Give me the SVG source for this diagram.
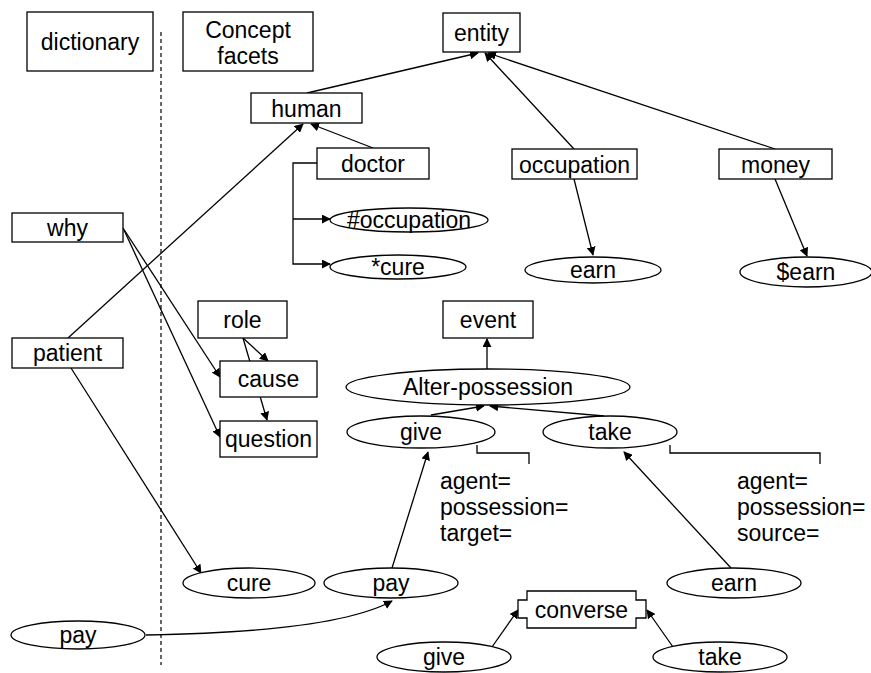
<svg xmlns="http://www.w3.org/2000/svg" width="871" height="673" viewBox="0 0 871 673">
<defs>
<style>
.b{fill:#fff;stroke:#000;stroke-width:1.3}
.t{font-family:"Liberation Sans",Arial,sans-serif;font-size:23px;fill:#000;text-anchor:middle}
.l{font-family:"Liberation Sans",Arial,sans-serif;font-size:23px;fill:#000;text-anchor:start}
.c{fill:none;stroke:#000;stroke-width:1.3}
.a{marker-end:url(#ah)}
</style>
<marker id="ah" viewBox="0 0 10 10" refX="9" refY="5" markerWidth="9" markerHeight="9" markerUnits="userSpaceOnUse" orient="auto">
<path d="M0,0 L10,5 L0,10 z" fill="#000"/>
</marker>
</defs>
<rect width="871" height="673" fill="#fff"/>
<line x1="161" y1="32" x2="161" y2="665" stroke="#000" stroke-width="1.2" stroke-dasharray="4,3"/>
<g id="connectors">
<path class="c a" d="M307,93 L478,53"/>
<path class="c a" d="M574,149 L485,53"/>
<path class="c a" d="M775,149 L488,53"/>
<path class="c a" d="M373,148 L311,124"/>
<path class="c a" d="M68,338 L303,124"/>
<path class="c a" d="M317,163 H293 V264 H330"/>
<path class="c a" d="M293,219 H330"/>
<path class="c a" d="M574,179 L593,255"/>
<path class="c a" d="M775,179 L807,256"/>
<path class="c a" d="M123,228 L220,377"/>
<path class="c a" d="M124,230 L220,437"/>
<path class="c a" d="M243,338 L268,361"/>
<path class="c a" d="M243,338 L267,420"/>
<path class="c a" d="M71,368 L201,573"/>
<path class="c a" d="M146,635 Q335,632 392,601"/>
<path class="c a" d="M392,568 L428,452"/>
<path class="c a" d="M487,369 L487,339"/>
<path class="c a" d="M431,415 L484,406"/>
<path class="c a" d="M604,416 L490,406"/>
<path class="c a" d="M731,568 L624,452"/>
<path class="c a" d="M492,647 L518,610"/>
<path class="c a" d="M673,647 L647,610"/>
<path class="c" d="M477,445 V453 H529 V464"/>
<path class="c" d="M670,445 V453 H820 V464"/>
</g>
<g id="dictionary"><rect class="b" x="27" y="12" width="126" height="59"/><text class="t" x="90" y="50">dictionary</text></g>
<g id="concept-facets"><rect class="b" x="183" y="12" width="130" height="59"/><text class="t" x="248" y="38">Concept</text><text class="t" x="248" y="64">facets</text></g>
<g id="entity"><rect class="b" x="443" y="13" width="77" height="39"/><text class="t" x="481.5" y="41">entity</text></g>
<g id="human"><rect class="b" x="251" y="93" width="111" height="30"/><text class="t" x="306.5" y="116.5">human</text></g>
<g id="doctor"><rect class="b" x="317" y="148" width="112" height="31"/><text class="t" x="373" y="172">doctor</text></g>
<g id="occupation"><rect class="b" x="512" y="149" width="125" height="30"/><text class="t" x="574.5" y="172.5">occupation</text></g>
<g id="money"><rect class="b" x="719" y="149" width="113" height="30"/><text class="t" x="775.5" y="172.5">money</text></g>
<g id="hash-occupation"><ellipse class="b" cx="409" cy="220" rx="79" ry="12"/><text class="t" x="409" y="228">#occupation</text></g>
<g id="star-cure"><ellipse class="b" cx="398" cy="267" rx="68" ry="12"/><text class="t" x="398" y="275">*cure</text></g>
<g id="earn-top"><ellipse class="b" cx="593" cy="270" rx="68" ry="13"/><text class="t" x="593" y="278">earn</text></g>
<g id="dollar-earn"><ellipse class="b" cx="806" cy="272" rx="66" ry="15"/><text class="t" x="806" y="280">$earn</text></g>
<g id="why"><rect class="b" x="12" y="213" width="111" height="29"/><text class="t" x="67.5" y="236">why</text></g>
<g id="patient"><rect class="b" x="12" y="338" width="111" height="30"/><text class="t" x="67.5" y="361">patient</text></g>
<g id="role"><rect class="b" x="198" y="301" width="89" height="37"/><text class="t" x="242.5" y="328">role</text></g>
<g id="cause"><rect class="b" x="220" y="361" width="97" height="36"/><text class="t" x="268.5" y="387">cause</text></g>
<g id="question"><rect class="b" x="220" y="421" width="97" height="36"/><text class="t" x="268.5" y="447">question</text></g>
<g id="event"><rect class="b" x="443" y="301" width="90" height="37"/><text class="t" x="488" y="328">event</text></g>
<g id="alter-possession"><ellipse class="b" cx="488" cy="387" rx="142" ry="18"/><text class="t" x="488" y="395">Alter-possession</text></g>
<g id="give-top"><ellipse class="b" cx="421" cy="432" rx="74" ry="16"/><text class="t" x="421" y="440">give</text></g>
<g id="take-top"><ellipse class="b" cx="610" cy="432" rx="67" ry="16"/><text class="t" x="610" y="440">take</text></g>
<g id="give-roles"><text class="l" x="440" y="489">agent=</text><text class="l" x="440" y="515">possession=</text><text class="l" x="440" y="541">target=</text></g>
<g id="take-roles"><text class="l" x="737" y="489">agent=</text><text class="l" x="737" y="515">possession=</text><text class="l" x="737" y="541">source=</text></g>
<g id="cure"><ellipse class="b" cx="249" cy="583" rx="66" ry="15"/><text class="t" x="249" y="591">cure</text></g>
<g id="pay-mid"><ellipse class="b" cx="391" cy="583" rx="67" ry="15"/><text class="t" x="391" y="591">pay</text></g>
<g id="earn-bottom"><ellipse class="b" cx="734" cy="583" rx="67" ry="15"/><text class="t" x="734" y="591">earn</text></g>
<g id="pay-left"><ellipse class="b" cx="78" cy="635" rx="67" ry="14"/><text class="t" x="78" y="643">pay</text></g>
<g id="converse"><path class="b" d="M527,591 H636 V600 H646 V618 H636 V628 H527 V618 H518 V600 H527 Z"/><text class="t" x="581.5" y="618">converse</text></g>
<g id="give-bottom"><ellipse class="b" cx="444" cy="657" rx="67" ry="15"/><text class="t" x="444" y="665">give</text></g>
<g id="take-bottom"><ellipse class="b" cx="720" cy="657" rx="67" ry="15"/><text class="t" x="720" y="665">take</text></g>
</svg>
